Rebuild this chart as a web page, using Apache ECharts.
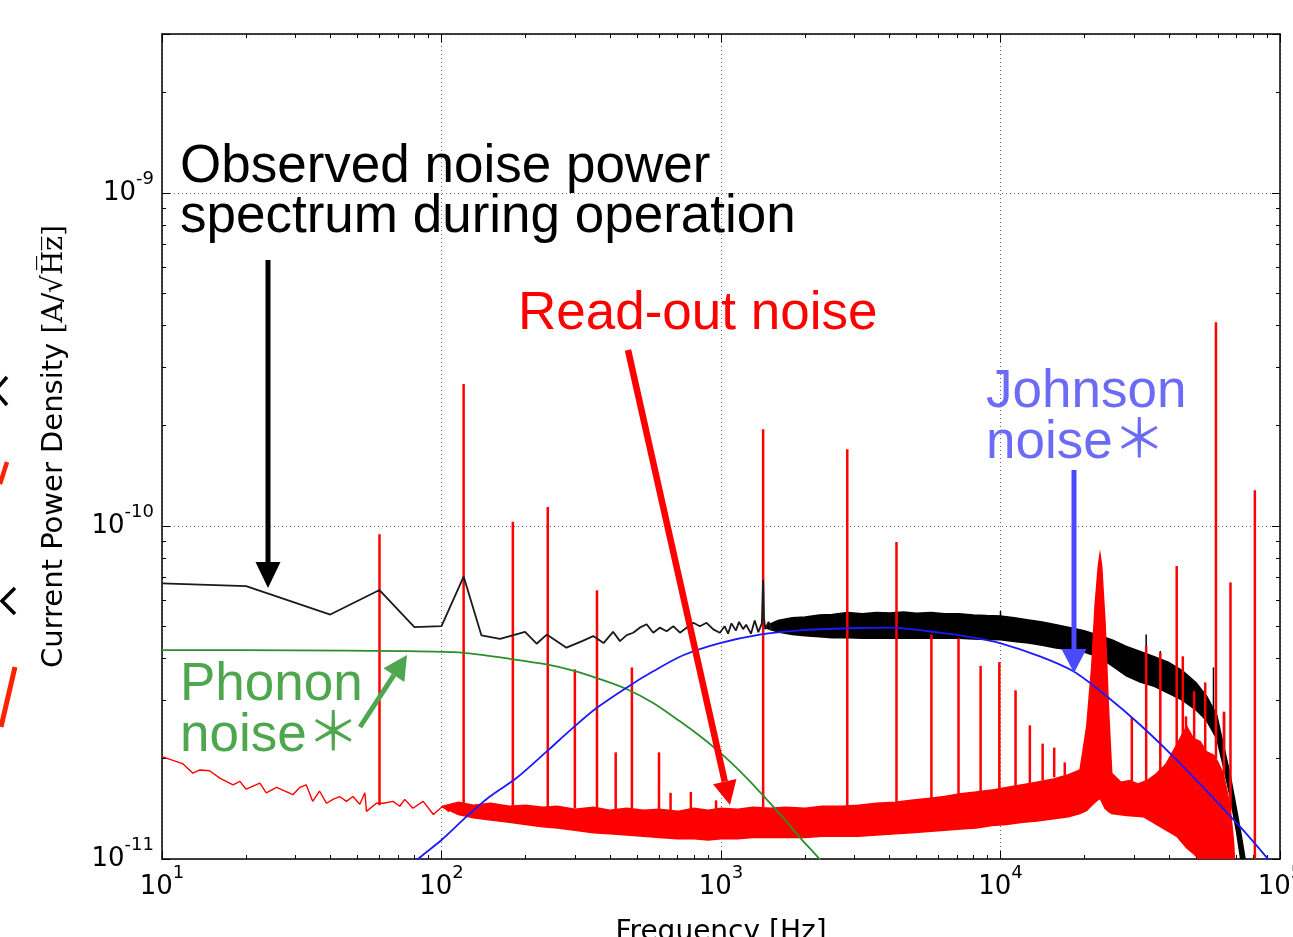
<!DOCTYPE html>
<html>
<head>
<meta charset="utf-8">
<script src="https://cdn.jsdelivr.net/npm/echarts@6/dist/echarts.min.js"></script>
<style>
  html, body { margin: 0; padding: 0; background: #fff; }
  #noise-chart { width: 1293px; height: 937px; }
</style>
</head>
<body>
<div id="noise-chart"></div>
<script>
// axis ranges
const xMin = 10, xMax = 1e5
const yMin = 1e-11, yMax = 3e-9

// minor tick multipliers per decade
const minorMult = [2, 3, 4, 5, 6, 7, 8, 9]
const xDecades = [10, 100, 1000, 10000]
const yDecades = [1e-11, 1e-10, 1e-9]

// observed spectrum, low-frequency part (clean line) [Hz, A/rtHz]
const observedLine = [
  [10, 6.72e-11], [20, 6.6e-11], [40, 5.42e-11], [60, 6.42e-11], [80, 4.97e-11],
  [100, 5.0e-11], [120, 7.05e-11], [139, 4.69e-11], [162, 4.58e-11], [199, 4.81e-11],
  [219, 4.43e-11], [238, 4.72e-11], [280, 4.31e-11], [320, 4.52e-11], [349, 4.67e-11],
  [380, 4.45e-11], [411, 4.81e-11], [435, 4.51e-11], [460, 4.7e-11], [485, 4.78e-11],
  [512, 4.95e-11], [542, 5.07e-11], [572, 4.78e-11], [604, 4.95e-11], [639, 4.83e-11],
  [675, 5.0e-11], [713, 4.78e-11], [753, 4.95e-11], [796, 5.12e-11], [840, 5.0e-11],
  [888, 5.12e-11], [938, 4.89e-11], [991, 4.78e-11], [1030, 5.0e-11], [1060, 4.75e-11],
  [1090, 5.1e-11], [1130, 4.85e-11], [1160, 5.15e-11], [1200, 4.9e-11], [1230, 5.05e-11],
  [1280, 4.75e-11], [1320, 5.2e-11], [1360, 4.8e-11], [1400, 5.1e-11], [1415, 6.9e-11],
  [1425, 5.3e-11], [1440, 4.9e-11], [1480, 5.15e-11], [1520, 4.85e-11]
]
// observed spectrum, dense part: upper / lower envelope
const observedHigh = [
  [1440, 5.0e-11], [1600, 5.2e-11], [1800, 5.3e-11], [2000, 5.33e-11], [2250, 5.4e-11],
  [2500, 5.42e-11], [2840, 5.5e-11], [3200, 5.45e-11], [3600, 5.5e-11], [4000, 5.48e-11],
  [4500, 5.52e-11], [5000, 5.47e-11], [5650, 5.5e-11], [6300, 5.45e-11], [7100, 5.45e-11],
  [8000, 5.4e-11], [8900, 5.38e-11], [10000, 5.37e-11], [11200, 5.3e-11], [12600, 5.22e-11],
  [14100, 5.15e-11], [15800, 5.05e-11], [17800, 4.95e-11], [19900, 4.85e-11], [22400, 4.7e-11],
  [25100, 4.55e-11], [28200, 4.35e-11], [31600, 4.2e-11], [35500, 4.05e-11], [39800, 3.9e-11],
  [44700, 3.68e-11], [50100, 3.38e-11], [54700, 3.08e-11], [59400, 2.7e-11], [62700, 2.2e-11],
  [66200, 1.8e-11], [70000, 1.4e-11], [73000, 1.15e-11], [75000, 1.0e-11], [78000, 0.8e-11]
]
const observedLow = [
  [1440, 4.95e-11], [1600, 4.8e-11], [1800, 4.72e-11], [2000, 4.68e-11], [2250, 4.65e-11],
  [2500, 4.62e-11], [2840, 4.62e-11], [3200, 4.6e-11], [3600, 4.6e-11], [4000, 4.6e-11],
  [4500, 4.6e-11], [5000, 4.6e-11], [5650, 4.6e-11], [6300, 4.6e-11], [7100, 4.6e-11],
  [8000, 4.58e-11], [8900, 4.56e-11], [10000, 4.55e-11], [11200, 4.5e-11], [12600, 4.45e-11],
  [14100, 4.38e-11], [15800, 4.3e-11], [17800, 4.25e-11], [19900, 4.18e-11], [22400, 4.05e-11],
  [25100, 3.8e-11], [28200, 3.55e-11], [31600, 3.4e-11], [35500, 3.3e-11], [39800, 3.15e-11],
  [44700, 3.0e-11], [50100, 2.8e-11], [54700, 2.6e-11], [59400, 2.3e-11], [62700, 1.9e-11],
  [66200, 1.55e-11], [70000, 1.2e-11], [73000, 0.95e-11], [75000, 0.85e-11], [78000, 0.7e-11]
]
// narrow excursions of the observed spectrum [Hz, top, base]
const observedSpikes = [
  [10000, 5.55e-11, 5.3e-11], [33200, 4.72e-11, 4.0e-11], [37300, 4.21e-11, 3.9e-11],
  [57800, 3.76e-11, 2.8e-11], [63300, 2.75e-11, 2.0e-11]
]

// read-out noise, low-frequency line
const readoutLine = [
  [10, 2.03e-11], [11.9, 1.93e-11], [12.9, 1.81e-11], [13.6, 1.85e-11], [14.8, 1.84e-11],
  [16.1, 1.75e-11], [17.95, 1.67e-11], [19.0, 1.71e-11], [20.0, 1.62e-11], [22.4, 1.69e-11],
  [23.6, 1.58e-11], [25.7, 1.64e-11], [29.4, 1.56e-11], [31.1, 1.64e-11], [32.8, 1.67e-11],
  [34.6, 1.49e-11], [36.6, 1.6e-11], [38.8, 1.47e-11], [40.9, 1.51e-11], [43.2, 1.54e-11],
  [45.7, 1.49e-11], [48.2, 1.54e-11], [51.0, 1.46e-11], [53.2, 1.58e-11], [53.9, 1.39e-11],
  [58.5, 1.47e-11], [61.9, 1.47e-11], [67.1, 1.49e-11], [70.9, 1.44e-11], [73.9, 1.51e-11],
  [79.0, 1.42e-11], [86.0, 1.49e-11], [93.5, 1.36e-11], [101, 1.44e-11], [106, 1.39e-11],
  [110, 1.47e-11]
]
// read-out noise, dense floor: upper / lower envelope
const readoutHigh = [
  [101, 1.44e-11], [115, 1.48e-11], [130, 1.45e-11], [150, 1.47e-11], [175, 1.44e-11],
  [200, 1.45e-11], [230, 1.43e-11], [260, 1.44e-11], [300, 1.41e-11], [350, 1.43e-11],
  [400, 1.4e-11], [460, 1.42e-11], [530, 1.4e-11], [600, 1.41e-11], [700, 1.39e-11],
  [800, 1.42e-11], [900, 1.4e-11], [1000, 1.42e-11], [1150, 1.41e-11], [1300, 1.43e-11],
  [1500, 1.42e-11], [1700, 1.43e-11], [2000, 1.42e-11], [2300, 1.44e-11], [2700, 1.44e-11],
  [3100, 1.45e-11], [3600, 1.47e-11], [4200, 1.48e-11], [4800, 1.5e-11], [5500, 1.52e-11],
  [6300, 1.54e-11], [7200, 1.57e-11], [8200, 1.59e-11], [9300, 1.61e-11], [10500, 1.64e-11],
  [12000, 1.67e-11], [13500, 1.7e-11], [15500, 1.74e-11], [17500, 1.79e-11], [19250, 1.85e-11],
  [20350, 2.5e-11], [21210, 3.79e-11], [21790, 5.75e-11], [22390, 7.59e-11], [22700, 8.22e-11],
  [23010, 7.59e-11], [23660, 5.12e-11], [24320, 2.88e-11], [25000, 1.81e-11], [27000, 1.7e-11],
  [29000, 1.72e-11], [31000, 1.68e-11], [33500, 1.72e-11], [36000, 1.8e-11], [39000, 1.92e-11],
  [42700, 2.2e-11], [44500, 2.35e-11], [46400, 2.5e-11], [49000, 2.3e-11], [51800, 2.25e-11],
  [54500, 2.1e-11], [57800, 2.05e-11], [60000, 1.95e-11], [62700, 1.8e-11], [66200, 1.45e-11],
  [68100, 1.14e-11], [69000, 0.95e-11]
]
const readoutLow = [
  [101, 1.43e-11], [115, 1.36e-11], [130, 1.33e-11], [150, 1.31e-11], [175, 1.29e-11],
  [200, 1.27e-11], [230, 1.25e-11], [260, 1.24e-11], [300, 1.22e-11], [350, 1.2e-11],
  [400, 1.19e-11], [460, 1.18e-11], [530, 1.17e-11], [600, 1.16e-11], [700, 1.15e-11],
  [800, 1.15e-11], [900, 1.14e-11], [1000, 1.15e-11], [1150, 1.15e-11], [1300, 1.16e-11],
  [1500, 1.16e-11], [1700, 1.16e-11], [2000, 1.16e-11], [2300, 1.17e-11], [2700, 1.17e-11],
  [3100, 1.17e-11], [3600, 1.18e-11], [4200, 1.19e-11], [4800, 1.2e-11], [5500, 1.21e-11],
  [6300, 1.22e-11], [7200, 1.23e-11], [8200, 1.24e-11], [9300, 1.26e-11], [10500, 1.27e-11],
  [12000, 1.29e-11], [13500, 1.3e-11], [15500, 1.32e-11], [17500, 1.34e-11], [19250, 1.37e-11],
  [20350, 1.4e-11], [21210, 1.45e-11], [21790, 1.48e-11], [22390, 1.51e-11], [22700, 1.52e-11],
  [23010, 1.49e-11], [23660, 1.42e-11], [24320, 1.39e-11], [25000, 1.37e-11], [28290, 1.35e-11],
  [32440, 1.34e-11], [37290, 1.25e-11], [42730, 1.17e-11], [46390, 1.08e-11], [48980, 1.04e-11],
  [51760, 0.99e-11], [57800, 0.9e-11], [62700, 0.85e-11], [66200, 0.8e-11], [69000, 0.8e-11]
]
// read-out noise lines [Hz, top, base]
const readoutSpikes = [
  [60, 9.44e-11, 1.45e-11], [120, 2.67e-10, 1.45e-11], [180, 1.03e-10, 1.43e-11],
  [240, 1.14e-10, 1.42e-11], [300, 3.71e-11, 1.42e-11], [360, 6.41e-11, 1.4e-11],
  [420, 2.09e-11, 1.4e-11], [480, 3.76e-11, 1.4e-11], [600, 2.09e-11, 1.4e-11],
  [660, 1.58e-11, 1.39e-11], [780, 1.59e-11, 1.4e-11], [960, 1.5e-11, 1.41e-11],
  [1415, 1.95e-10, 1.43e-11], [2830, 1.7e-10, 1.43e-11], [4245, 8.95e-11, 1.47e-11],
  [5660, 4.72e-11, 1.52e-11], [7075, 4.6e-11, 1.56e-11], [8490, 3.8e-11, 1.59e-11],
  [9905, 3.9e-11, 1.62e-11], [11320, 3.21e-11, 1.65e-11], [12735, 2.52e-11, 1.68e-11],
  [14150, 2.22e-11, 1.72e-11], [15565, 2.16e-11, 1.76e-11], [16980, 1.95e-11, 1.78e-11],
  [29500, 2.66e-11, 1.68e-11], [33200, 4.36e-11, 1.65e-11], [37300, 4.17e-11, 1.8e-11],
  [42700, 7.58e-11, 2.1e-11], [44900, 4.06e-11, 2.3e-11], [46100, 2.68e-11, 2.3e-11],
  [49300, 3.19e-11, 2.2e-11], [54000, 3.39e-11, 2.1e-11], [59000, 4.09e-10, 2.0e-11],
  [63000, 2.77e-11, 1.8e-11], [66500, 6.77e-11, 1.4e-11], [81300, 1.28e-10, 0.8e-11]
]

// model curves
const phononNoise = [
  [10, 4.24e-11], [30, 4.23e-11], [70.9, 4.21e-11], [119.5, 4.16e-11], [175.5, 3.99e-11],
  [237.5, 3.84e-11], [295.8, 3.68e-11], [368.6, 3.47e-11], [459.2, 3.24e-11], [571.9, 2.94e-11],
  [712.8, 2.59e-11], [840.3, 2.34e-11], [964.5, 2.13e-11], [1106, 1.92e-11], [1269, 1.71e-11],
  [1456, 1.51e-11], [1670, 1.33e-11], [1916, 1.16e-11], [2228, 1.01e-11], [2400, 0.93e-11]
]
const johnsonNoise = [
  [75, 0.93e-11], [83.6, 1.01e-11], [100, 1.14e-11], [122.9, 1.34e-11], [148.9, 1.54e-11],
  [185.5, 1.75e-11], [237.5, 2.1e-11], [295.8, 2.48e-11], [358.7, 2.84e-11], [459.2, 3.27e-11],
  [571.9, 3.66e-11], [732.2, 4.09e-11], [991, 4.45e-11], [1377, 4.72e-11], [1916, 4.86e-11],
  [2893, 4.93e-11], [4023, 4.95e-11], [6067, 4.78e-11], [7991, 4.62e-11], [9950, 4.45e-11],
  [13840, 4.06e-11], [18230, 3.66e-11], [23990, 3.08e-11], [31570, 2.53e-11], [41540, 2.03e-11],
  [54690, 1.6e-11], [71940, 1.25e-11], [89700, 1.01e-11], [95000, 0.95e-11]
]

const minorX = xDecades.flatMap(d => minorMult.map(m => m * d))
const minorY = yDecades.flatMap(d => minorMult.map(m => m * d)).filter(v => v < yMax)

const powLabel = (v) => {
  const e = Math.log10(v)
  const r = Math.round(e)
  if (Math.abs(e - r) > 1e-3) return ''
  return '{b|10}{s|' + r + '}'
}
const labelRich = {
  b: { fontFamily: 'DejaVu Sans', fontSize: 26, color: '#000', lineHeight: 46 },
  s: { fontFamily: 'DejaVu Sans', fontSize: 18, color: '#000', lineHeight: 18, verticalAlign: 'top' }
}

const axisDef = (type, position, major) => {
  const isX = type === 'x'
  return {
    type: 'log', logBase: 10,
    min: isX ? xMin : yMin, max: isX ? xMax : yMax,
    position,
    axisLine: { show: major, onZero: false, lineStyle: { color: '#000', width: 1.5 } },
    axisTick: major
      ? { show: true, inside: true, length: 8, lineStyle: { color: '#000', width: 1 } }
      : { show: true, inside: true, length: 4, customValues: isX ? minorX : minorY, lineStyle: { color: '#000', width: 1 } },
    axisLabel: { show: false },
    splitLine: { show: false },
    minorTick: { show: false },
    minorSplitLine: { show: false }
  }
}

const gridLine = { show: true, lineStyle: { color: '#666', width: 1, type: [1, 3] } }

const xBottom = Object.assign(axisDef('x', 'bottom', true), {
  axisLabel: { show: true, margin: 5, formatter: powLabel, rich: labelRich, showMinLabel: true, showMaxLabel: true },
  splitLine: gridLine,
  name: 'Frequency [Hz]', nameLocation: 'middle', nameGap: 60,
  nameTextStyle: { fontFamily: 'DejaVu Sans', fontSize: 28, color: '#000' }
})
const yLeft = Object.assign(axisDef('y', 'left', true), {
  axisLabel: { show: true, margin: 8, formatter: powLabel, rich: labelRich, showMinLabel: true, showMaxLabel: true },
  splitLine: gridLine,
  name: '{a|Current Power Density }{c|[A/√H\u0305z\u0305]}', nameLocation: 'middle', nameGap: 93, nameRotate: 90,
  nameTextStyle: {
    rich: {
      a: { fontFamily: 'DejaVu Sans', fontSize: 29, color: '#000' },
      c: { fontFamily: 'DejaVu Serif', fontSize: 28, color: '#000' }
    }
  }
})

// band between two envelopes, drawn through the axes
const bandSeries = (high, low, color) => ({
  type: 'custom',
  clip: true,
  silent: true,
  data: [high[0]],
  renderItem: (params, api) => {
    const pts = high.map(p => api.coord(p)).concat(low.slice().reverse().map(p => api.coord(p)))
    return { type: 'polygon', shape: { points: pts }, style: { fill: color, stroke: color, lineWidth: 1.5 } }
  }
})
const spikeSeries = (list, color, width) => ({
  type: 'custom',
  clip: true,
  silent: true,
  data: list,
  encode: { x: 0, y: [1, 2] },
  renderItem: (params, api) => {
    const f = api.value(0)
    const p1 = api.coord([f, api.value(2)])
    const p2 = api.coord([f, api.value(1)])
    return { type: 'line', shape: { x1: p1[0], y1: p1[1], x2: p2[0], y2: p2[1] }, style: { stroke: color, lineWidth: width } }
  }
})
const lineSeries = (data, color, width, smooth) => ({
  type: 'line', data, showSymbol: false, symbol: 'none', smooth: smooth || false,
  silent: true, clip: true,
  lineStyle: { color, width }
})

const arrow = (x1, y1, x2, y2, color, w, headLen, headHalf) => {
  const dx = x2 - x1, dy = y2 - y1
  const L = Math.hypot(dx, dy)
  const ux = dx / L, uy = dy / L
  const bx = x2 - ux * headLen, by = y2 - uy * headLen
  return [
    { type: 'line', z: 100, shape: { x1, y1, x2: bx, y2: by }, style: { stroke: color, lineWidth: w } },
    { type: 'polygon', z: 100, shape: { points: [[x2, y2], [bx - uy * headHalf, by + ux * headHalf], [bx + uy * headHalf, by - ux * headHalf]] }, style: { fill: color } }
  ]
}
const note = (x, y, text, color, lineHeight) => ({
  type: 'text', z: 100, x, y,
  style: {
    text, fill: color, fontSize: 53, fontFamily: '"Liberation Sans", "Noto Sans CJK JP"',
    lineHeight, align: 'left', verticalAlign: 'top'
  }
})

const chart = echarts.init(document.getElementById('noise-chart'), null, { renderer: 'canvas' })
chart.setOption({
  animation: false,
  backgroundColor: '#fff',
  grid: { left: 162, right: 13, top: 34, bottom: 78, containLabel: false, outerBoundsMode: 'none' },
  xAxis: [xBottom, axisDef('x', 'bottom', false), axisDef('x', 'top', true), axisDef('x', 'top', false)],
  yAxis: [yLeft, axisDef('y', 'left', false), axisDef('y', 'right', true), axisDef('y', 'right', false)],
  series: [
    lineSeries(observedLine, '#1a1a1a', 1.8),
    bandSeries(observedHigh, observedLow, '#000'),
    spikeSeries(observedSpikes, '#000', 1.5),
    lineSeries(readoutLine, '#ff0000', 1.4),
    bandSeries(readoutHigh, readoutLow, '#ff0000'),
    spikeSeries(readoutSpikes, '#ff0000', 2.5),
    lineSeries(phononNoise, '#2b8f2b', 1.8, 0.3),
    lineSeries(johnsonNoise, '#1a1aff', 1.8, 0.3)
  ],
  graphic: [
    note(180, 142, 'Observed noise power\nspectrum during operation', '#000', 50),
    note(518, 289, 'Read-out noise', '#ff0000', 50),
    note(986, 367, 'Johnson\nnoise＊', '#6b6bf6', 51),
    note(180, 660, 'Phonon\nnoise＊', '#4ea64e', 51),
    ...arrow(268, 260, 268, 588, '#000', 5, 26, 12.5),
    ...arrow(628, 350, 730, 805, '#ff0000', 6.5, 24, 12),
    ...arrow(1074, 470, 1074, 673, '#4a4aff', 5, 24, 12.5),
    ...arrow(360, 727, 407, 655, '#4ea64e', 5, 24, 12.5),
    // clipped fragments at the left edge
    { type: 'polyline', z: 100, shape: { points: [[7, 377], [-5, 391], [7, 405]] }, style: { stroke: '#000', lineWidth: 3.5, fill: null } },
    { type: 'line', z: 100, shape: { x1: 0, y1: 484, x2: 7, y2: 462 }, style: { stroke: '#ff2200', lineWidth: 4.5 } },
    { type: 'polyline', z: 100, shape: { points: [[15, 588], [2, 601], [15, 614]] }, style: { stroke: '#000', lineWidth: 3.5, fill: null } },
    { type: 'line', z: 100, shape: { x1: 1, y1: 727, x2: 15, y2: 667 }, style: { stroke: '#ff2200', lineWidth: 5 } }
  ]
})
</script>
</body>
</html>
